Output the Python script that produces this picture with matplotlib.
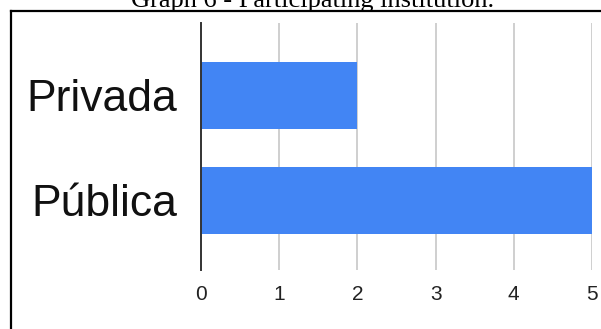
import matplotlib
matplotlib.use("Agg")
import matplotlib.pyplot as plt
from matplotlib.lines import Line2D

categories = ["Pública", "Privada"]
values = [5, 2]
xticks = [0, 1, 2, 3, 4, 5]
title = "Graph 6 - Participating institution."

W, H = 601, 329
fig = plt.figure(figsize=(W / 100, H / 100), dpi=100)
fig.patch.set_facecolor("white")

def fx(px):
    return px / W

def fy(py):
    return 1 - py / H

ax = fig.add_axes([fx(201), fy(270), fx(592) - fx(201), fy(23) - fy(270)])
ypos = list(range(len(categories)))
ax.barh(ypos, values, height=0.638, color="#4285F4", zorder=3)
ax.set_xlim(0, 5)
ax.set_ylim(-0.662, 1.690)
ax.set_yticks(ypos)
ax.set_yticklabels(categories, fontsize=32, family=["Liberation Sans", "DejaVu Sans"], color="#111111")
ax.set_xticks(xticks)
ax.set_xticklabels([str(t) for t in xticks], fontsize=15, family=["Liberation Sans", "DejaVu Sans"], color="#222222")
ax.tick_params(axis="both", length=0)
ax.tick_params(axis="y", pad=17)
ax.tick_params(axis="x", pad=11)
ax.grid(axis="x", color="#cccccc", linewidth=1.3, zorder=0)
for s in ["top", "right", "bottom"]:
    ax.spines[s].set_visible(False)
ax.spines["left"].set_color("#333333")
ax.spines["left"].set_linewidth(1.4)
ax.spines["left"].set_zorder(4)

# Outer frame (left and top only, as cropped)
fig.add_artist(Line2D([fx(11), fx(11)], [fy(11), 0], color="black", linewidth=1.6, transform=fig.transFigure))
fig.add_artist(Line2D([fx(11), 1], [fy(11), fy(11)], color="black", linewidth=1.6, transform=fig.transFigure))

fig.text(fx(312.5), fy(7), title, ha="center", va="baseline", fontsize=19,
         family=["Liberation Serif", "DejaVu Serif"], color="black")

fig.savefig("out.png", dpi=100)
